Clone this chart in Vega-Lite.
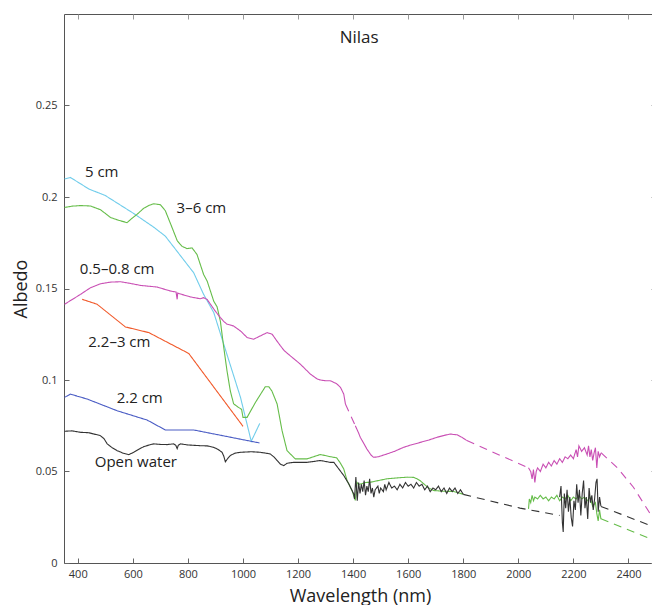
{
  "$schema": "https://vega.github.io/schema/vega-lite/v6.json",
  "width": 592,
  "height": 549,
  "autosize": {"type": "none"},
  "padding": {"left": 64, "top": 14, "right": 0, "bottom": 42},
  "background": "white",
  "config": {
    "font": "Open Sans",
    "view": {"stroke": "#555", "strokeWidth": 1},
    "axis": {
      "grid": false,
      "domain": false,
      "offset": -5,
      "tickColor": "#666",
      "tickSize": 5,
      "tickWidth": 1,
      "labelFont": "Open Sans",
      "labelFontSize": 11,
      "labelColor": "#333",
      "titleFont": "Open Sans",
      "titleFontWeight": "normal",
      "titleColor": "#222"
    }
  },
  "datasets": {
    "lines": [
      {"s":"5 cm","g":"c1","d":"solid","x":352,"y":0.2098},
      {"s":"5 cm","g":"c1","d":"solid","x":373,"y":0.2107},
      {"s":"5 cm","g":"c1","d":"solid","x":440,"y":0.2044},
      {"s":"5 cm","g":"c1","d":"solid","x":500,"y":0.2008},
      {"s":"5 cm","g":"c1","d":"solid","x":603,"y":0.191},
      {"s":"5 cm","g":"c1","d":"solid","x":676,"y":0.1835},
      {"s":"5 cm","g":"c1","d":"solid","x":718,"y":0.1786},
      {"s":"5 cm","g":"c1","d":"solid","x":821,"y":0.1586},
      {"s":"5 cm","g":"c1","d":"solid","x":857,"y":0.1468},
      {"s":"5 cm","g":"c1","d":"solid","x":894,"y":0.1368},
      {"s":"5 cm","g":"c1","d":"solid","x":991,"y":0.0905},
      {"s":"5 cm","g":"c1","d":"solid","x":1030,"y":0.0665},
      {"s":"5 cm","g":"c1","d":"solid","x":1061,"y":0.0763},

      {"s":"3–6 cm","g":"g1","d":"solid","x":352,"y":0.1943},
      {"s":"3–6 cm","g":"g1","d":"solid","x":380,"y":0.195},
      {"s":"3–6 cm","g":"g1","d":"solid","x":410,"y":0.1953},
      {"s":"3–6 cm","g":"g1","d":"solid","x":446,"y":0.1951},
      {"s":"3–6 cm","g":"g1","d":"solid","x":483,"y":0.193},
      {"s":"3–6 cm","g":"g1","d":"solid","x":519,"y":0.1888},
      {"s":"3–6 cm","g":"g1","d":"solid","x":550,"y":0.1872},
      {"s":"3–6 cm","g":"g1","d":"solid","x":579,"y":0.186},
      {"s":"3–6 cm","g":"g1","d":"solid","x":591,"y":0.1876},
      {"s":"3–6 cm","g":"g1","d":"solid","x":615,"y":0.1905},
      {"s":"3–6 cm","g":"g1","d":"solid","x":640,"y":0.1939},
      {"s":"3–6 cm","g":"g1","d":"solid","x":660,"y":0.1955},
      {"s":"3–6 cm","g":"g1","d":"solid","x":676,"y":0.1963},
      {"s":"3–6 cm","g":"g1","d":"solid","x":700,"y":0.1958},
      {"s":"3–6 cm","g":"g1","d":"solid","x":718,"y":0.1925},
      {"s":"3–6 cm","g":"g1","d":"solid","x":730,"y":0.188},
      {"s":"3–6 cm","g":"g1","d":"solid","x":743,"y":0.1831},
      {"s":"3–6 cm","g":"g1","d":"solid","x":761,"y":0.1762},
      {"s":"3–6 cm","g":"g1","d":"solid","x":770,"y":0.1745},
      {"s":"3–6 cm","g":"g1","d":"solid","x":779,"y":0.173},
      {"s":"3–6 cm","g":"g1","d":"solid","x":797,"y":0.1718},
      {"s":"3–6 cm","g":"g1","d":"solid","x":815,"y":0.1722},
      {"s":"3–6 cm","g":"g1","d":"solid","x":833,"y":0.1686},
      {"s":"3–6 cm","g":"g1","d":"solid","x":857,"y":0.1577},
      {"s":"3–6 cm","g":"g1","d":"solid","x":870,"y":0.154},
      {"s":"3–6 cm","g":"g1","d":"solid","x":894,"y":0.143},
      {"s":"3–6 cm","g":"g1","d":"solid","x":906,"y":0.14},
      {"s":"3–6 cm","g":"g1","d":"solid","x":918,"y":0.132},
      {"s":"3–6 cm","g":"g1","d":"solid","x":930,"y":0.118},
      {"s":"3–6 cm","g":"g1","d":"solid","x":942,"y":0.105},
      {"s":"3–6 cm","g":"g1","d":"solid","x":954,"y":0.094},
      {"s":"3–6 cm","g":"g1","d":"solid","x":966,"y":0.087},
      {"s":"3–6 cm","g":"g1","d":"solid","x":984,"y":0.085},
      {"s":"3–6 cm","g":"g1","d":"solid","x":995,"y":0.084},
      {"s":"3–6 cm","g":"g1","d":"solid","x":1000,"y":0.0796},
      {"s":"3–6 cm","g":"g1","d":"solid","x":1015,"y":0.0796},
      {"s":"3–6 cm","g":"g1","d":"solid","x":1045,"y":0.0877},
      {"s":"3–6 cm","g":"g1","d":"solid","x":1081,"y":0.0963},
      {"s":"3–6 cm","g":"g1","d":"solid","x":1094,"y":0.0963},
      {"s":"3–6 cm","g":"g1","d":"solid","x":1105,"y":0.094},
      {"s":"3–6 cm","g":"g1","d":"solid","x":1124,"y":0.0869},
      {"s":"3–6 cm","g":"g1","d":"solid","x":1142,"y":0.0723},
      {"s":"3–6 cm","g":"g1","d":"solid","x":1160,"y":0.0614},
      {"s":"3–6 cm","g":"g1","d":"solid","x":1190,"y":0.0569},
      {"s":"3–6 cm","g":"g1","d":"solid","x":1233,"y":0.0569},
      {"s":"3–6 cm","g":"g1","d":"solid","x":1281,"y":0.0593},
      {"s":"3–6 cm","g":"g1","d":"solid","x":1317,"y":0.0581},
      {"s":"3–6 cm","g":"g1","d":"solid","x":1340,"y":0.0575},
      {"s":"3–6 cm","g":"g1","d":"solid","x":1352,"y":0.055},
      {"s":"3–6 cm","g":"g1","d":"solid","x":1366,"y":0.0514},
      {"s":"3–6 cm","g":"g1","d":"solid","x":1378,"y":0.0451},
      {"s":"3–6 cm","g":"g1","d":"solid","x":1396,"y":0.0396},
      {"s":"3–6 cm","g":"g1","d":"solid","x":1408,"y":0.0342},
      {"s":"3–6 cm","g":"g1","d":"solid","x":1414,"y":0.0441},
      {"s":"3–6 cm","g":"g1","d":"solid","x":1420,"y":0.043},
      {"s":"3–6 cm","g":"g1","d":"solid","x":1432,"y":0.0433},
      {"s":"3–6 cm","g":"g1","d":"solid","x":1445,"y":0.044},
      {"s":"3–6 cm","g":"g1","d":"solid","x":1462,"y":0.0441},
      {"s":"3–6 cm","g":"g1","d":"solid","x":1490,"y":0.045},
      {"s":"3–6 cm","g":"g1","d":"solid","x":1523,"y":0.046},
      {"s":"3–6 cm","g":"g1","d":"solid","x":1560,"y":0.0465},
      {"s":"3–6 cm","g":"g1","d":"solid","x":1596,"y":0.0469},
      {"s":"3–6 cm","g":"g1","d":"solid","x":1620,"y":0.0468},
      {"s":"3–6 cm","g":"g1","d":"solid","x":1632,"y":0.046},
      {"s":"3–6 cm","g":"g1","d":"solid","x":1645,"y":0.0448},
      {"s":"3–6 cm","g":"g1","d":"solid","x":1656,"y":0.0433},
      {"s":"3–6 cm","g":"g1","d":"solid","x":1675,"y":0.041},
      {"s":"3–6 cm","g":"g1","d":"solid","x":1692,"y":0.0396},
      {"s":"3–6 cm","g":"g1","d":"solid","x":1729,"y":0.0392},
      {"s":"3–6 cm","g":"g1","d":"solid","x":1765,"y":0.0391},
      {"s":"3–6 cm","g":"g1","d":"solid","x":1795,"y":0.0378},
      {"s":"3–6 cm","g":"g1","d":"solid","x":1800,"y":0.0378},

      {"s":"3–6 cm","g":"g2","d":"solid","x":2037,"y":0.0296},
      {"s":"3–6 cm","g":"g2","d":"solid","x":2040,"y":0.035},
      {"s":"3–6 cm","g":"g2","d":"solid","x":2045,"y":0.033},
      {"s":"3–6 cm","g":"g2","d":"solid","x":2050,"y":0.037},
      {"s":"3–6 cm","g":"g2","d":"solid","x":2055,"y":0.034},
      {"s":"3–6 cm","g":"g2","d":"solid","x":2060,"y":0.036},
      {"s":"3–6 cm","g":"g2","d":"solid","x":2070,"y":0.035},
      {"s":"3–6 cm","g":"g2","d":"solid","x":2080,"y":0.037},
      {"s":"3–6 cm","g":"g2","d":"solid","x":2090,"y":0.035},
      {"s":"3–6 cm","g":"g2","d":"solid","x":2100,"y":0.036},
      {"s":"3–6 cm","g":"g2","d":"solid","x":2110,"y":0.034},
      {"s":"3–6 cm","g":"g2","d":"solid","x":2120,"y":0.036},
      {"s":"3–6 cm","g":"g2","d":"solid","x":2130,"y":0.035},
      {"s":"3–6 cm","g":"g2","d":"solid","x":2140,"y":0.037},
      {"s":"3–6 cm","g":"g2","d":"solid","x":2150,"y":0.034},
      {"s":"3–6 cm","g":"g2","d":"solid","x":2160,"y":0.036},
      {"s":"3–6 cm","g":"g2","d":"solid","x":2170,"y":0.035},
      {"s":"3–6 cm","g":"g2","d":"solid","x":2180,"y":0.037},
      {"s":"3–6 cm","g":"g2","d":"solid","x":2190,"y":0.034},
      {"s":"3–6 cm","g":"g2","d":"solid","x":2200,"y":0.036},
      {"s":"3–6 cm","g":"g2","d":"solid","x":2210,"y":0.035},
      {"s":"3–6 cm","g":"g2","d":"solid","x":2220,"y":0.037},
      {"s":"3–6 cm","g":"g2","d":"solid","x":2230,"y":0.035},
      {"s":"3–6 cm","g":"g2","d":"solid","x":2240,"y":0.036},
      {"s":"3–6 cm","g":"g2","d":"solid","x":2250,"y":0.034},
      {"s":"3–6 cm","g":"g2","d":"solid","x":2260,"y":0.036},
      {"s":"3–6 cm","g":"g2","d":"solid","x":2270,"y":0.031},
      {"s":"3–6 cm","g":"g2","d":"solid","x":2280,"y":0.033},
      {"s":"3–6 cm","g":"g2","d":"solid","x":2285,"y":0.027},
      {"s":"3–6 cm","g":"g2","d":"solid","x":2290,"y":0.023},
      {"s":"3–6 cm","g":"g2","d":"solid","x":2295,"y":0.029},
      {"s":"3–6 cm","g":"g2","d":"solid","x":2300,"y":0.024},

      {"s":"3–6 cm","g":"g3","d":"dashed","x":2300,"y":0.0242},
      {"s":"3–6 cm","g":"g3","d":"dashed","x":2500,"y":0.012},

      {"s":"0.5–0.8 cm","g":"m1","d":"solid","x":352,"y":0.1414},
      {"s":"0.5–0.8 cm","g":"m1","d":"solid","x":380,"y":0.144},
      {"s":"0.5–0.8 cm","g":"m1","d":"solid","x":410,"y":0.1468},
      {"s":"0.5–0.8 cm","g":"m1","d":"solid","x":446,"y":0.1504},
      {"s":"0.5–0.8 cm","g":"m1","d":"solid","x":483,"y":0.1526},
      {"s":"0.5–0.8 cm","g":"m1","d":"solid","x":520,"y":0.1535},
      {"s":"0.5–0.8 cm","g":"m1","d":"solid","x":555,"y":0.1537},
      {"s":"0.5–0.8 cm","g":"m1","d":"solid","x":590,"y":0.1528},
      {"s":"0.5–0.8 cm","g":"m1","d":"solid","x":628,"y":0.1517},
      {"s":"0.5–0.8 cm","g":"m1","d":"solid","x":688,"y":0.1508},
      {"s":"0.5–0.8 cm","g":"m1","d":"solid","x":737,"y":0.1486},
      {"s":"0.5–0.8 cm","g":"m1","d":"solid","x":757,"y":0.1481},
      {"s":"0.5–0.8 cm","g":"m1","d":"solid","x":759,"y":0.146},
      {"s":"0.5–0.8 cm","g":"m1","d":"solid","x":761,"y":0.1441},
      {"s":"0.5–0.8 cm","g":"m1","d":"solid","x":763,"y":0.1475},
      {"s":"0.5–0.8 cm","g":"m1","d":"solid","x":773,"y":0.147},
      {"s":"0.5–0.8 cm","g":"m1","d":"solid","x":809,"y":0.1454},
      {"s":"0.5–0.8 cm","g":"m1","d":"solid","x":845,"y":0.1444},
      {"s":"0.5–0.8 cm","g":"m1","d":"solid","x":857,"y":0.145},
      {"s":"0.5–0.8 cm","g":"m1","d":"solid","x":870,"y":0.144},
      {"s":"0.5–0.8 cm","g":"m1","d":"solid","x":882,"y":0.1414},
      {"s":"0.5–0.8 cm","g":"m1","d":"solid","x":900,"y":0.1375},
      {"s":"0.5–0.8 cm","g":"m1","d":"solid","x":918,"y":0.1341},
      {"s":"0.5–0.8 cm","g":"m1","d":"solid","x":930,"y":0.132},
      {"s":"0.5–0.8 cm","g":"m1","d":"solid","x":942,"y":0.1305},
      {"s":"0.5–0.8 cm","g":"m1","d":"solid","x":955,"y":0.13},
      {"s":"0.5–0.8 cm","g":"m1","d":"solid","x":966,"y":0.1295},
      {"s":"0.5–0.8 cm","g":"m1","d":"solid","x":991,"y":0.1268},
      {"s":"0.5–0.8 cm","g":"m1","d":"solid","x":1015,"y":0.1232},
      {"s":"0.5–0.8 cm","g":"m1","d":"solid","x":1039,"y":0.1223},
      {"s":"0.5–0.8 cm","g":"m1","d":"solid","x":1063,"y":0.1241},
      {"s":"0.5–0.8 cm","g":"m1","d":"solid","x":1088,"y":0.1259},
      {"s":"0.5–0.8 cm","g":"m1","d":"solid","x":1106,"y":0.125},
      {"s":"0.5–0.8 cm","g":"m1","d":"solid","x":1120,"y":0.122},
      {"s":"0.5–0.8 cm","g":"m1","d":"solid","x":1136,"y":0.1187},
      {"s":"0.5–0.8 cm","g":"m1","d":"solid","x":1150,"y":0.116},
      {"s":"0.5–0.8 cm","g":"m1","d":"solid","x":1172,"y":0.1132},
      {"s":"0.5–0.8 cm","g":"m1","d":"solid","x":1208,"y":0.1087},
      {"s":"0.5–0.8 cm","g":"m1","d":"solid","x":1245,"y":0.1032},
      {"s":"0.5–0.8 cm","g":"m1","d":"solid","x":1270,"y":0.1005},
      {"s":"0.5–0.8 cm","g":"m1","d":"solid","x":1281,"y":0.1},
      {"s":"0.5–0.8 cm","g":"m1","d":"solid","x":1300,"y":0.0996},
      {"s":"0.5–0.8 cm","g":"m1","d":"solid","x":1317,"y":0.0996},
      {"s":"0.5–0.8 cm","g":"m1","d":"solid","x":1340,"y":0.098},
      {"s":"0.5–0.8 cm","g":"m1","d":"solid","x":1354,"y":0.096},
      {"s":"0.5–0.8 cm","g":"m1","d":"solid","x":1366,"y":0.0923},
      {"s":"0.5–0.8 cm","g":"m1","d":"solid","x":1372,"y":0.0869},

      {"s":"0.5–0.8 cm","g":"m2","d":"dashed","x":1372,"y":0.0869},
      {"s":"0.5–0.8 cm","g":"m2","d":"dashed","x":1408,"y":0.075},

      {"s":"0.5–0.8 cm","g":"m3","d":"solid","x":1408,"y":0.075},
      {"s":"0.5–0.8 cm","g":"m3","d":"solid","x":1420,"y":0.071},
      {"s":"0.5–0.8 cm","g":"m3","d":"solid","x":1426,"y":0.0687},
      {"s":"0.5–0.8 cm","g":"m3","d":"solid","x":1440,"y":0.065},
      {"s":"0.5–0.8 cm","g":"m3","d":"solid","x":1450,"y":0.0623},
      {"s":"0.5–0.8 cm","g":"m3","d":"solid","x":1465,"y":0.059},
      {"s":"0.5–0.8 cm","g":"m3","d":"solid","x":1474,"y":0.0578},
      {"s":"0.5–0.8 cm","g":"m3","d":"solid","x":1485,"y":0.0579},
      {"s":"0.5–0.8 cm","g":"m3","d":"solid","x":1493,"y":0.0581},
      {"s":"0.5–0.8 cm","g":"m3","d":"solid","x":1523,"y":0.0596},
      {"s":"0.5–0.8 cm","g":"m3","d":"solid","x":1550,"y":0.061},
      {"s":"0.5–0.8 cm","g":"m3","d":"solid","x":1583,"y":0.0632},
      {"s":"0.5–0.8 cm","g":"m3","d":"solid","x":1610,"y":0.0645},
      {"s":"0.5–0.8 cm","g":"m3","d":"solid","x":1644,"y":0.0659},
      {"s":"0.5–0.8 cm","g":"m3","d":"solid","x":1675,"y":0.0672},
      {"s":"0.5–0.8 cm","g":"m3","d":"solid","x":1705,"y":0.0687},
      {"s":"0.5–0.8 cm","g":"m3","d":"solid","x":1730,"y":0.0697},
      {"s":"0.5–0.8 cm","g":"m3","d":"solid","x":1753,"y":0.0705},
      {"s":"0.5–0.8 cm","g":"m3","d":"solid","x":1765,"y":0.0702},
      {"s":"0.5–0.8 cm","g":"m3","d":"solid","x":1777,"y":0.0701},
      {"s":"0.5–0.8 cm","g":"m3","d":"solid","x":1795,"y":0.0687},
      {"s":"0.5–0.8 cm","g":"m3","d":"solid","x":1813,"y":0.0669},

      {"s":"0.5–0.8 cm","g":"m4","d":"dashed","x":1813,"y":0.0669},
      {"s":"0.5–0.8 cm","g":"m4","d":"dashed","x":2037,"y":0.052},

      {"s":"0.5–0.8 cm","g":"m5","d":"solid","x":2037,"y":0.052},
      {"s":"0.5–0.8 cm","g":"m5","d":"solid","x":2045,"y":0.05},
      {"s":"0.5–0.8 cm","g":"m5","d":"solid","x":2050,"y":0.046},
      {"s":"0.5–0.8 cm","g":"m5","d":"solid","x":2055,"y":0.051},
      {"s":"0.5–0.8 cm","g":"m5","d":"solid","x":2060,"y":0.044},
      {"s":"0.5–0.8 cm","g":"m5","d":"solid","x":2065,"y":0.05},
      {"s":"0.5–0.8 cm","g":"m5","d":"solid","x":2070,"y":0.052},
      {"s":"0.5–0.8 cm","g":"m5","d":"solid","x":2080,"y":0.05},
      {"s":"0.5–0.8 cm","g":"m5","d":"solid","x":2090,"y":0.054},
      {"s":"0.5–0.8 cm","g":"m5","d":"solid","x":2100,"y":0.052},
      {"s":"0.5–0.8 cm","g":"m5","d":"solid","x":2110,"y":0.055},
      {"s":"0.5–0.8 cm","g":"m5","d":"solid","x":2120,"y":0.053},
      {"s":"0.5–0.8 cm","g":"m5","d":"solid","x":2130,"y":0.056},
      {"s":"0.5–0.8 cm","g":"m5","d":"solid","x":2140,"y":0.054},
      {"s":"0.5–0.8 cm","g":"m5","d":"solid","x":2150,"y":0.057},
      {"s":"0.5–0.8 cm","g":"m5","d":"solid","x":2160,"y":0.055},
      {"s":"0.5–0.8 cm","g":"m5","d":"solid","x":2170,"y":0.058},
      {"s":"0.5–0.8 cm","g":"m5","d":"solid","x":2180,"y":0.057},
      {"s":"0.5–0.8 cm","g":"m5","d":"solid","x":2190,"y":0.059},
      {"s":"0.5–0.8 cm","g":"m5","d":"solid","x":2200,"y":0.057},
      {"s":"0.5–0.8 cm","g":"m5","d":"solid","x":2210,"y":0.062},
      {"s":"0.5–0.8 cm","g":"m5","d":"solid","x":2215,"y":0.058},
      {"s":"0.5–0.8 cm","g":"m5","d":"solid","x":2220,"y":0.064},
      {"s":"0.5–0.8 cm","g":"m5","d":"solid","x":2230,"y":0.061},
      {"s":"0.5–0.8 cm","g":"m5","d":"solid","x":2240,"y":0.063},
      {"s":"0.5–0.8 cm","g":"m5","d":"solid","x":2250,"y":0.059},
      {"s":"0.5–0.8 cm","g":"m5","d":"solid","x":2255,"y":0.064},
      {"s":"0.5–0.8 cm","g":"m5","d":"solid","x":2260,"y":0.058},
      {"s":"0.5–0.8 cm","g":"m5","d":"solid","x":2265,"y":0.062},
      {"s":"0.5–0.8 cm","g":"m5","d":"solid","x":2270,"y":0.056},
      {"s":"0.5–0.8 cm","g":"m5","d":"solid","x":2275,"y":0.06},
      {"s":"0.5–0.8 cm","g":"m5","d":"solid","x":2280,"y":0.063},
      {"s":"0.5–0.8 cm","g":"m5","d":"solid","x":2285,"y":0.052},
      {"s":"0.5–0.8 cm","g":"m5","d":"solid","x":2290,"y":0.061},
      {"s":"0.5–0.8 cm","g":"m5","d":"solid","x":2295,"y":0.058},
      {"s":"0.5–0.8 cm","g":"m5","d":"solid","x":2300,"y":0.06},

      {"s":"0.5–0.8 cm","g":"m6","d":"dashed","x":2300,"y":0.0603},
      {"s":"0.5–0.8 cm","g":"m6","d":"dashed","x":2358,"y":0.0523},
      {"s":"0.5–0.8 cm","g":"m6","d":"dashed","x":2418,"y":0.0414},
      {"s":"0.5–0.8 cm","g":"m6","d":"dashed","x":2500,"y":0.0219},

      {"s":"2.2–3 cm","g":"o1","d":"solid","x":416,"y":0.1441},
      {"s":"2.2–3 cm","g":"o1","d":"solid","x":470,"y":0.1414},
      {"s":"2.2–3 cm","g":"o1","d":"solid","x":573,"y":0.129},
      {"s":"2.2–3 cm","g":"o1","d":"solid","x":658,"y":0.1259},
      {"s":"2.2–3 cm","g":"o1","d":"solid","x":803,"y":0.1145},
      {"s":"2.2–3 cm","g":"o1","d":"solid","x":1000,"y":0.0747},

      {"s":"2.2 cm","g":"b1","d":"solid","x":352,"y":0.0905},
      {"s":"2.2 cm","g":"b1","d":"solid","x":373,"y":0.0923},
      {"s":"2.2 cm","g":"b1","d":"solid","x":434,"y":0.0896},
      {"s":"2.2 cm","g":"b1","d":"solid","x":543,"y":0.0832},
      {"s":"2.2 cm","g":"b1","d":"solid","x":652,"y":0.0781},
      {"s":"2.2 cm","g":"b1","d":"solid","x":718,"y":0.0727},
      {"s":"2.2 cm","g":"b1","d":"solid","x":821,"y":0.0727},
      {"s":"2.2 cm","g":"b1","d":"solid","x":1060,"y":0.0656},

      {"s":"Open water","g":"k1","d":"solid","x":352,"y":0.072},
      {"s":"Open water","g":"k1","d":"solid","x":380,"y":0.0722},
      {"s":"Open water","g":"k1","d":"solid","x":410,"y":0.0714},
      {"s":"Open water","g":"k1","d":"solid","x":440,"y":0.0712},
      {"s":"Open water","g":"k1","d":"solid","x":458,"y":0.0705},
      {"s":"Open water","g":"k1","d":"solid","x":482,"y":0.0696},
      {"s":"Open water","g":"k1","d":"solid","x":495,"y":0.068},
      {"s":"Open water","g":"k1","d":"solid","x":507,"y":0.0651},
      {"s":"Open water","g":"k1","d":"solid","x":525,"y":0.063},
      {"s":"Open water","g":"k1","d":"solid","x":543,"y":0.0614},
      {"s":"Open water","g":"k1","d":"solid","x":565,"y":0.06},
      {"s":"Open water","g":"k1","d":"solid","x":585,"y":0.0592},
      {"s":"Open water","g":"k1","d":"solid","x":603,"y":0.0605},
      {"s":"Open water","g":"k1","d":"solid","x":620,"y":0.062},
      {"s":"Open water","g":"k1","d":"solid","x":640,"y":0.0636},
      {"s":"Open water","g":"k1","d":"solid","x":660,"y":0.0645},
      {"s":"Open water","g":"k1","d":"solid","x":676,"y":0.0651},
      {"s":"Open water","g":"k1","d":"solid","x":700,"y":0.0648},
      {"s":"Open water","g":"k1","d":"solid","x":725,"y":0.0647},
      {"s":"Open water","g":"k1","d":"solid","x":748,"y":0.0651},
      {"s":"Open water","g":"k1","d":"solid","x":756,"y":0.0643},
      {"s":"Open water","g":"k1","d":"solid","x":761,"y":0.0625},
      {"s":"Open water","g":"k1","d":"solid","x":765,"y":0.0643},
      {"s":"Open water","g":"k1","d":"solid","x":773,"y":0.0651},
      {"s":"Open water","g":"k1","d":"solid","x":800,"y":0.0645},
      {"s":"Open water","g":"k1","d":"solid","x":845,"y":0.0641},
      {"s":"Open water","g":"k1","d":"solid","x":870,"y":0.064},
      {"s":"Open water","g":"k1","d":"solid","x":894,"y":0.0632},
      {"s":"Open water","g":"k1","d":"solid","x":910,"y":0.062},
      {"s":"Open water","g":"k1","d":"solid","x":924,"y":0.0605},
      {"s":"Open water","g":"k1","d":"solid","x":930,"y":0.0585},
      {"s":"Open water","g":"k1","d":"solid","x":936,"y":0.0553},
      {"s":"Open water","g":"k1","d":"solid","x":945,"y":0.0572},
      {"s":"Open water","g":"k1","d":"solid","x":954,"y":0.0587},
      {"s":"Open water","g":"k1","d":"solid","x":970,"y":0.06},
      {"s":"Open water","g":"k1","d":"solid","x":991,"y":0.0605},
      {"s":"Open water","g":"k1","d":"solid","x":1030,"y":0.0608},
      {"s":"Open water","g":"k1","d":"solid","x":1063,"y":0.0605},
      {"s":"Open water","g":"k1","d":"solid","x":1099,"y":0.0596},
      {"s":"Open water","g":"k1","d":"solid","x":1112,"y":0.058},
      {"s":"Open water","g":"k1","d":"solid","x":1124,"y":0.056},
      {"s":"Open water","g":"k1","d":"solid","x":1136,"y":0.054},
      {"s":"Open water","g":"k1","d":"solid","x":1148,"y":0.0532},
      {"s":"Open water","g":"k1","d":"solid","x":1160,"y":0.0545},
      {"s":"Open water","g":"k1","d":"solid","x":1184,"y":0.055},
      {"s":"Open water","g":"k1","d":"solid","x":1233,"y":0.055},
      {"s":"Open water","g":"k1","d":"solid","x":1281,"y":0.056},
      {"s":"Open water","g":"k1","d":"solid","x":1317,"y":0.055},
      {"s":"Open water","g":"k1","d":"solid","x":1330,"y":0.055},
      {"s":"Open water","g":"k1","d":"solid","x":1348,"y":0.0514},
      {"s":"Open water","g":"k1","d":"solid","x":1366,"y":0.0478},
      {"s":"Open water","g":"k1","d":"solid","x":1384,"y":0.0433},
      {"s":"Open water","g":"k1","d":"solid","x":1402,"y":0.0378},
      {"s":"Open water","g":"k1","d":"solid","x":1405,"y":0.035},
      {"s":"Open water","g":"k1","d":"solid","x":1410,"y":0.047},
      {"s":"Open water","g":"k1","d":"solid","x":1415,"y":0.034},
      {"s":"Open water","g":"k1","d":"solid","x":1420,"y":0.044},
      {"s":"Open water","g":"k1","d":"solid","x":1425,"y":0.038},
      {"s":"Open water","g":"k1","d":"solid","x":1430,"y":0.043},
      {"s":"Open water","g":"k1","d":"solid","x":1435,"y":0.039},
      {"s":"Open water","g":"k1","d":"solid","x":1440,"y":0.045},
      {"s":"Open water","g":"k1","d":"solid","x":1445,"y":0.037},
      {"s":"Open water","g":"k1","d":"solid","x":1450,"y":0.042},
      {"s":"Open water","g":"k1","d":"solid","x":1455,"y":0.039},
      {"s":"Open water","g":"k1","d":"solid","x":1460,"y":0.046},
      {"s":"Open water","g":"k1","d":"solid","x":1465,"y":0.038},
      {"s":"Open water","g":"k1","d":"solid","x":1470,"y":0.041},
      {"s":"Open water","g":"k1","d":"solid","x":1475,"y":0.036},
      {"s":"Open water","g":"k1","d":"solid","x":1480,"y":0.04},
      {"s":"Open water","g":"k1","d":"solid","x":1490,"y":0.042},
      {"s":"Open water","g":"k1","d":"solid","x":1495,"y":0.038},
      {"s":"Open water","g":"k1","d":"solid","x":1500,"y":0.041},
      {"s":"Open water","g":"k1","d":"solid","x":1510,"y":0.039},
      {"s":"Open water","g":"k1","d":"solid","x":1515,"y":0.043},
      {"s":"Open water","g":"k1","d":"solid","x":1520,"y":0.04},
      {"s":"Open water","g":"k1","d":"solid","x":1530,"y":0.044},
      {"s":"Open water","g":"k1","d":"solid","x":1540,"y":0.041},
      {"s":"Open water","g":"k1","d":"solid","x":1550,"y":0.042},
      {"s":"Open water","g":"k1","d":"solid","x":1560,"y":0.04},
      {"s":"Open water","g":"k1","d":"solid","x":1570,"y":0.043},
      {"s":"Open water","g":"k1","d":"solid","x":1580,"y":0.041},
      {"s":"Open water","g":"k1","d":"solid","x":1590,"y":0.044},
      {"s":"Open water","g":"k1","d":"solid","x":1600,"y":0.042},
      {"s":"Open water","g":"k1","d":"solid","x":1610,"y":0.043},
      {"s":"Open water","g":"k1","d":"solid","x":1620,"y":0.041},
      {"s":"Open water","g":"k1","d":"solid","x":1630,"y":0.044},
      {"s":"Open water","g":"k1","d":"solid","x":1640,"y":0.042},
      {"s":"Open water","g":"k1","d":"solid","x":1650,"y":0.043},
      {"s":"Open water","g":"k1","d":"solid","x":1660,"y":0.04},
      {"s":"Open water","g":"k1","d":"solid","x":1670,"y":0.042},
      {"s":"Open water","g":"k1","d":"solid","x":1680,"y":0.039},
      {"s":"Open water","g":"k1","d":"solid","x":1690,"y":0.041},
      {"s":"Open water","g":"k1","d":"solid","x":1700,"y":0.04},
      {"s":"Open water","g":"k1","d":"solid","x":1710,"y":0.042},
      {"s":"Open water","g":"k1","d":"solid","x":1720,"y":0.039},
      {"s":"Open water","g":"k1","d":"solid","x":1730,"y":0.041},
      {"s":"Open water","g":"k1","d":"solid","x":1740,"y":0.038},
      {"s":"Open water","g":"k1","d":"solid","x":1750,"y":0.041},
      {"s":"Open water","g":"k1","d":"solid","x":1760,"y":0.039},
      {"s":"Open water","g":"k1","d":"solid","x":1770,"y":0.041},
      {"s":"Open water","g":"k1","d":"solid","x":1780,"y":0.038},
      {"s":"Open water","g":"k1","d":"solid","x":1790,"y":0.04},
      {"s":"Open water","g":"k1","d":"solid","x":1800,"y":0.0375},

      {"s":"Open water","g":"k2","d":"dashed","x":1800,"y":0.0375},
      {"s":"Open water","g":"k2","d":"dashed","x":2006,"y":0.03},
      {"s":"Open water","g":"k2","d":"dashed","x":2150,"y":0.026},

      {"s":"Open water","g":"k3","d":"solid","x":2150,"y":0.036},
      {"s":"Open water","g":"k3","d":"solid","x":2155,"y":0.042},
      {"s":"Open water","g":"k3","d":"solid","x":2160,"y":0.022},
      {"s":"Open water","g":"k3","d":"solid","x":2163,"y":0.017},
      {"s":"Open water","g":"k3","d":"solid","x":2167,"y":0.038},
      {"s":"Open water","g":"k3","d":"solid","x":2172,"y":0.03},
      {"s":"Open water","g":"k3","d":"solid","x":2177,"y":0.04},
      {"s":"Open water","g":"k3","d":"solid","x":2182,"y":0.028},
      {"s":"Open water","g":"k3","d":"solid","x":2187,"y":0.036},
      {"s":"Open water","g":"k3","d":"solid","x":2192,"y":0.025},
      {"s":"Open water","g":"k3","d":"solid","x":2197,"y":0.02},
      {"s":"Open water","g":"k3","d":"solid","x":2202,"y":0.034},
      {"s":"Open water","g":"k3","d":"solid","x":2207,"y":0.029},
      {"s":"Open water","g":"k3","d":"solid","x":2212,"y":0.043},
      {"s":"Open water","g":"k3","d":"solid","x":2217,"y":0.033},
      {"s":"Open water","g":"k3","d":"solid","x":2222,"y":0.04},
      {"s":"Open water","g":"k3","d":"solid","x":2227,"y":0.026},
      {"s":"Open water","g":"k3","d":"solid","x":2232,"y":0.038},
      {"s":"Open water","g":"k3","d":"solid","x":2237,"y":0.045},
      {"s":"Open water","g":"k3","d":"solid","x":2242,"y":0.03},
      {"s":"Open water","g":"k3","d":"solid","x":2247,"y":0.036},
      {"s":"Open water","g":"k3","d":"solid","x":2252,"y":0.024},
      {"s":"Open water","g":"k3","d":"solid","x":2257,"y":0.041},
      {"s":"Open water","g":"k3","d":"solid","x":2262,"y":0.033},
      {"s":"Open water","g":"k3","d":"solid","x":2267,"y":0.037},
      {"s":"Open water","g":"k3","d":"solid","x":2272,"y":0.029},
      {"s":"Open water","g":"k3","d":"solid","x":2277,"y":0.035},
      {"s":"Open water","g":"k3","d":"solid","x":2282,"y":0.044},
      {"s":"Open water","g":"k3","d":"solid","x":2286,"y":0.046},
      {"s":"Open water","g":"k3","d":"solid","x":2290,"y":0.028},
      {"s":"Open water","g":"k3","d":"solid","x":2295,"y":0.036},
      {"s":"Open water","g":"k3","d":"solid","x":2300,"y":0.031},

      {"s":"Open water","g":"k4","d":"dashed","x":2300,"y":0.0309},
      {"s":"Open water","g":"k4","d":"dashed","x":2500,"y":0.0193}
    ],
    "labels": [
      {"t":"5 cm","x":487,"y":0.2135},
      {"t":"3–6 cm","x":849,"y":0.194},
      {"t":"0.5–0.8 cm","x":543,"y":0.1608},
      {"t":"2.2–3 cm","x":551,"y":0.1208},
      {"t":"2.2 cm","x":625,"y":0.0901},
      {"t":"Open water","x":611,"y":0.0551}
    ]
  },
  "layer": [
    {
      "data": {"name": "lines"},
      "mark": {"type": "line", "strokeWidth": 1.1, "interpolate": "linear"},
      "encoding": {
        "x": {
          "field": "x", "type": "quantitative",
          "scale": {"domain": [350, 2500], "nice": false, "zero": false},
          "axis": {
            "orient": "bottom",
            "values": [400, 600, 800, 1000, 1200, 1400, 1600, 1800, 2000, 2200, 2400],
            "format": "d",
            "labelPadding": 5,
            "title": "Wavelength (nm)",
            "titleFontSize": 18,
            "titlePadding": 8
          }
        },
        "y": {
          "field": "y", "type": "quantitative",
          "scale": {"domain": [0, 0.3], "nice": false, "zero": true},
          "axis": {
            "orient": "left",
            "values": [0, 0.05, 0.1, 0.15, 0.2, 0.25],
            "format": "~g",
            "labelPadding": 7,
            "title": "Albedo",
            "titleFontSize": 18,
            "titlePadding": 5
          }
        },
        "color": {
          "field": "s", "type": "nominal",
          "scale": {
            "domain": ["5 cm", "3–6 cm", "0.5–0.8 cm", "2.2–3 cm", "2.2 cm", "Open water"],
            "range": ["#71cdeb", "#66bd4a", "#c94fb4", "#f15a2b", "#4a5cc4", "#333333"]
          },
          "legend": null
        },
        "detail": {"field": "g", "type": "nominal"},
        "strokeDash": {
          "field": "d", "type": "nominal",
          "scale": {"domain": ["solid", "dashed"], "range": [[1, 0], [8, 6]]},
          "legend": null
        }
      }
    },
    {
      "data": {"name": "labels"},
      "mark": {"type": "text", "fontSize": 15, "color": "#222", "align": "center", "baseline": "middle"},
      "encoding": {
        "x": {
          "field": "x", "type": "quantitative",
          "scale": {"domain": [350, 2500], "nice": false, "zero": false},
          "axis": {"orient": "top", "values": [400, 600, 800, 1000, 1200, 1400, 1600, 1800, 2000, 2200, 2400], "labels": false, "title": null, "tickColor": "#999"}
        },
        "y": {
          "field": "y", "type": "quantitative",
          "scale": {"domain": [0, 0.3], "nice": false},
          "axis": {"orient": "right", "values": [0, 0.05, 0.1, 0.15, 0.2, 0.25], "labels": false, "title": null, "tickColor": "#999"}
        },
        "text": {"field": "t", "type": "nominal"}
      }
    },
    {
      "data": {"values": [{"t": "Nilas", "x": 1422, "y": 0.287}]},
      "mark": {"type": "text", "fontSize": 17, "color": "#222", "align": "center", "baseline": "middle"},
      "encoding": {
        "x": {"field": "x", "type": "quantitative", "axis": null},
        "y": {"field": "y", "type": "quantitative", "axis": null},
        "text": {"field": "t", "type": "nominal"}
      }
    }
  ],
  "resolve": {"axis": {"x": "independent", "y": "independent"}}
}
